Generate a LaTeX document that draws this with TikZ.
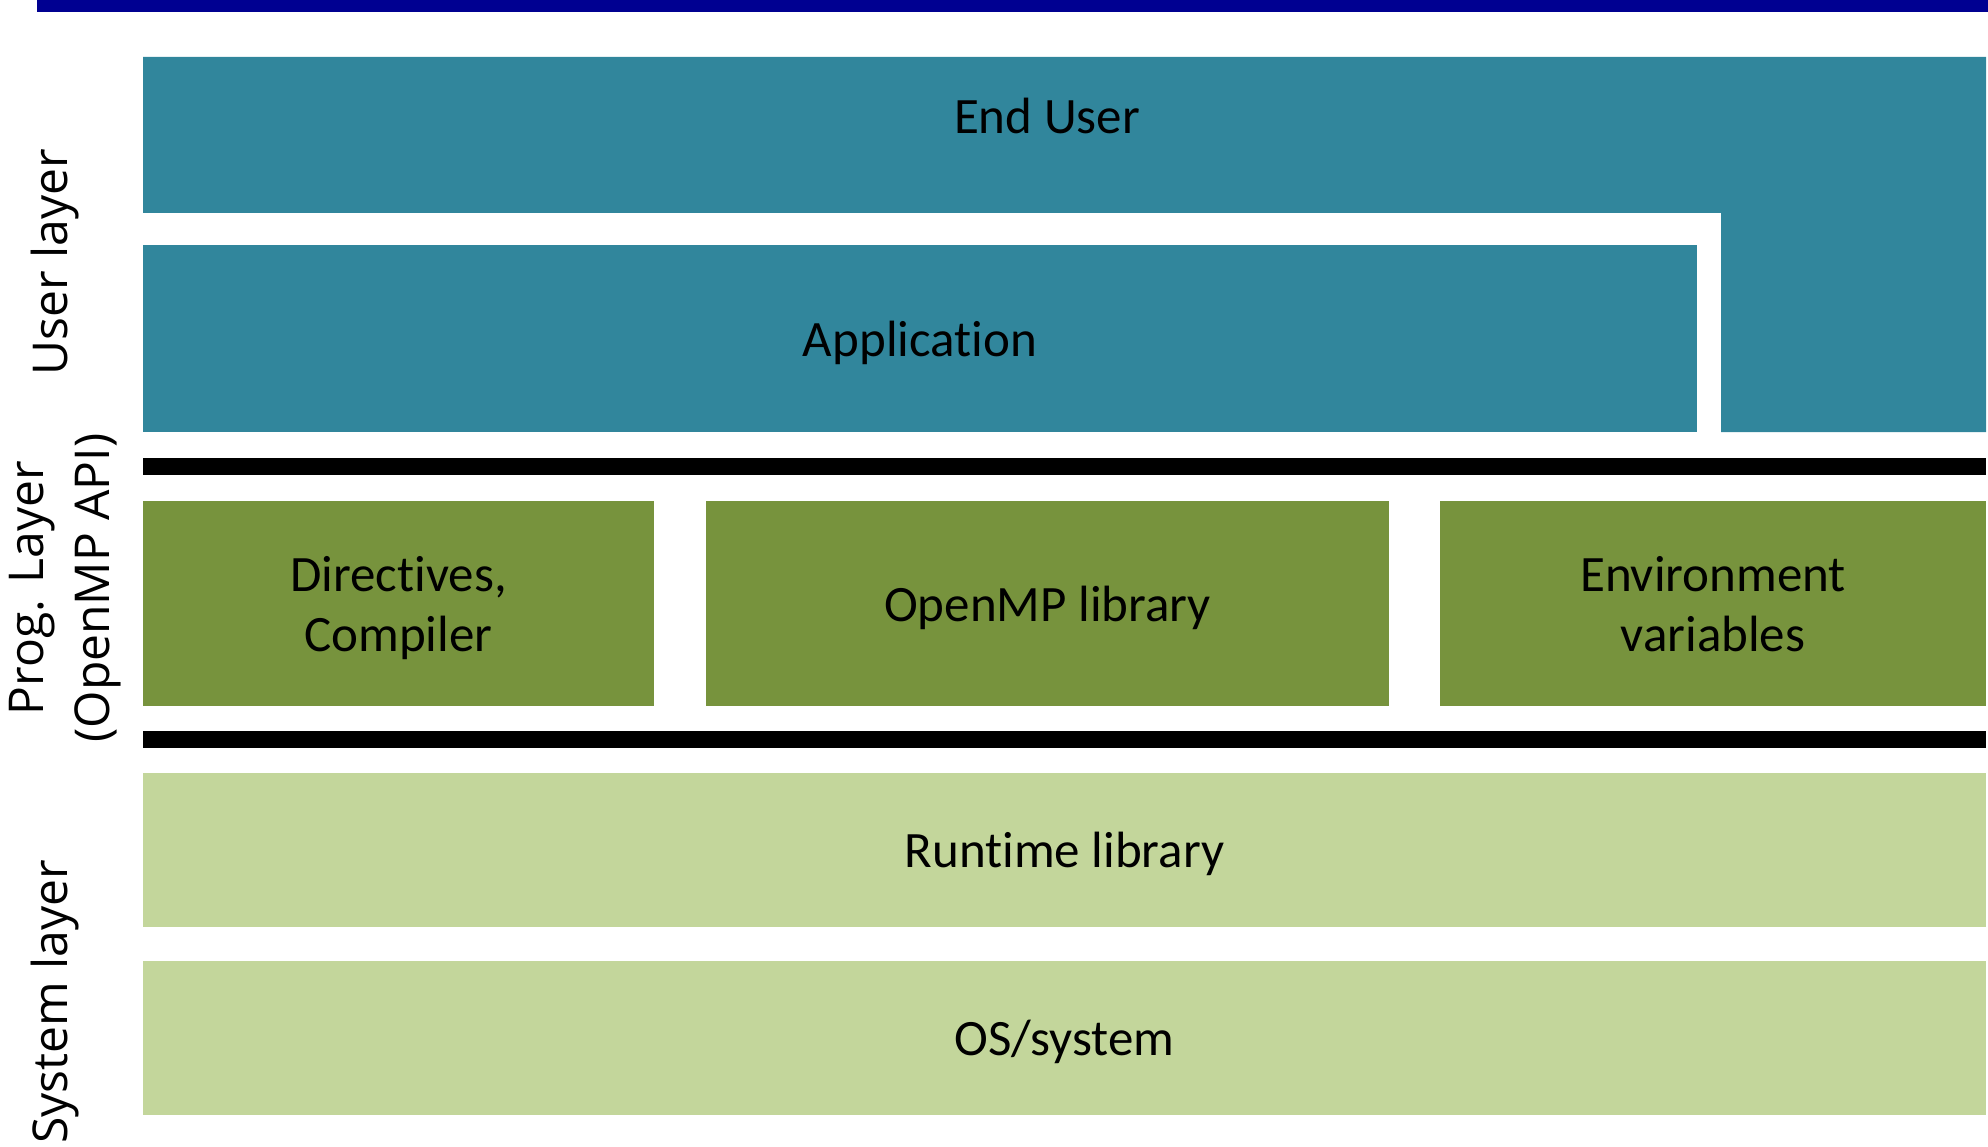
\documentclass[tikz,border=0pt]{standalone}
\usepackage{fontspec}
\setmainfont{Carlito}[Ligatures=CommonOff]
\newfontfamily\labfont{Open Sans}
\definecolor{navybar}{RGB}{0,0,145}
\definecolor{userteal}{RGB}{49,134,156}
\definecolor{proggreen}{RGB}{119,147,61}
\definecolor{sysgreen}{RGB}{195,214,155}
\begin{document}
\begin{tikzpicture}[x=1pt,y=-1pt,
  blk/.style={rectangle,inner sep=0pt,draw=none,align=center,text depth=0pt,
    font=\fontsize{51}{60}\selectfont},
  bar/.style={rectangle,inner sep=0pt,draw=none,fill=black,minimum width=1843pt,minimum height=17pt},
  lab/.style={rotate=90,anchor=base,inner sep=0pt,font=\labfont\fontsize{48}{60}\selectfont}]
\useasboundingbox (0,0) rectangle (1988,1147);
\fill[navybar] (37,0) rectangle (1988,12);
% End user L shape
\fill[userteal] (143,57) -- (1986,57) -- (1986,432) -- (1721,432) -- (1721,213) -- (143,213) -- cycle;
\node[blk] (enduser) at (1047,116) {End User};
\node[blk,fill=userteal,minimum width=1554pt,minimum height=187pt] (app) at (920,338.5) {Application};
\node[bar] (bar1) at (1064.5,466.5) {};
\node[blk,fill=proggreen,minimum width=511pt,minimum height=205pt] (dir) at (398.5,603.5) {Directives,\\Compiler};
\node[blk,fill=proggreen,minimum width=683pt,minimum height=205pt] (lib) at (1047.5,603.5) {OpenMP library};
\node[blk,fill=proggreen,minimum width=546pt,minimum height=205pt] (env) at (1713,603.5) {Environment\\variables};
\node[bar] (bar2) at (1064.5,739.5) {};
\node[blk,fill=sysgreen,minimum width=1843pt,minimum height=154pt] (rt) at (1064.5,850) {Runtime library};
\node[blk,fill=sysgreen,minimum width=1843pt,minimum height=154pt] (os) at (1064.5,1038) {OS/system};
% layer labels
\node[lab] (userlab) at (67,262) {User layer};
\node[lab] (proglabA) at (43,588) {Prog. Layer};
\node[lab] (proglabB) at (109,588) {(OpenMP API)};
\node[lab] (syslab) at (67,1002) {System layer};
\end{tikzpicture}
\end{document}
